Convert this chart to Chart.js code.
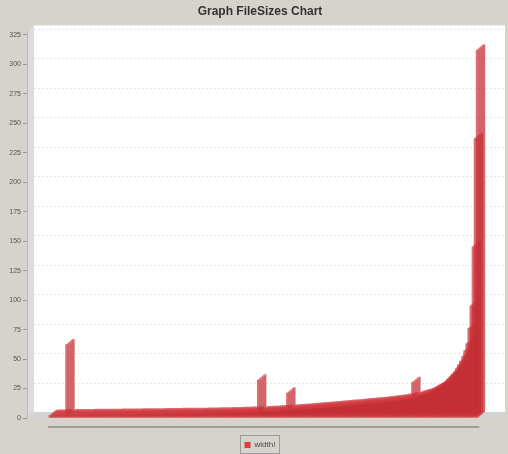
<!DOCTYPE html>
<html>
<head>
<meta charset="utf-8">
<title>Graph FileSizes Chart</title>
<script src="https://cdn.jsdelivr.net/npm/chart.js@4.4.1/dist/chart.umd.min.js"></script>
<style>
  html, body { margin: 0; padding: 0; background: #d6d3cc; }
  #wrap { width: 508px; height: 454px; }
</style>
</head>
<body>
<div id="wrap"><canvas id="chart" width="508" height="454"></canvas></div>
<script>
// Series: one bar per file, sorted by size, with a few stray large files.
const seriesName = 'width!';
const widths = [
  2.0, 2.1, 2.1, 2.2, 2.2, 2.3, 2.3, 2.4, 62.0, 2.4,
  2.5, 2.5, 2.5, 2.5, 2.6, 2.6, 2.6, 2.6, 2.6, 2.7,
  2.7, 2.7, 2.7, 2.7, 2.7, 2.8, 2.8, 2.8, 2.8, 2.8,
  2.8, 2.8, 2.9, 2.9, 2.9, 2.9, 2.9, 3.0, 3.0, 3.0,
  3.0, 3.0, 3.1, 3.1, 3.1, 3.1, 3.1, 3.2, 3.2, 3.2,
  3.2, 3.2, 3.2, 3.3, 3.3, 3.3, 3.3, 3.4, 3.4, 3.4,
  3.4, 3.5, 3.5, 3.5, 3.5, 3.6, 3.6, 3.6, 3.6, 3.7,
  3.7, 3.7, 3.7, 3.8, 3.8, 3.8, 3.9, 3.9, 3.9, 4.0,
  4.0, 4.0, 4.1, 4.1, 4.1, 4.2, 4.2, 4.2, 4.3, 4.3,
  4.4, 4.4, 4.5, 4.5, 4.6, 4.6, 4.7, 4.7, 4.8, 4.8,
  32.0, 4.9, 5.0, 5.1, 5.2, 5.3, 5.4, 5.6, 5.7, 5.8,
  5.9, 6.0, 6.1, 6.2, 21.0, 6.4, 6.5, 6.6, 6.8, 6.9,
  7.0, 7.2, 7.3, 7.5, 7.6, 7.8, 7.9, 8.1, 8.2, 8.4,
  8.5, 8.7, 8.8, 9.0, 9.1, 9.3, 9.4, 9.6, 9.7, 9.9,
  10.0, 10.2, 10.3, 10.5, 10.6, 10.8, 10.9, 11.1, 11.3, 11.4,
  11.6, 11.8, 11.9, 12.1, 12.3, 12.5, 12.6, 12.8, 13.0, 13.2,
  13.4, 13.6, 13.8, 14.0, 14.2, 14.4, 14.6, 14.9, 15.1, 15.4,
  15.7, 16.0, 16.4, 16.8, 30.0, 17.2, 18.0, 18.5, 19.0, 19.5,
  20.0, 20.8, 21.5, 22.5, 23.5, 24.5, 25.5, 26.5, 28.0, 29.5,
  31.0, 33.0, 35.0, 37.0, 39.0, 42.0, 45.0, 48.0, 52.0, 57.0,
  63.0, 76.0, 95.0, 145.0, 237.0, 312.0
];
const yTickValues = [0, 25, 50, 75, 100, 125, 150, 175, 200, 225, 250, 275, 300, 325];
const yAxisTop = 328;

// 3D depth of the plot (pixels to the right / upwards)
const DX = 7, DY = 6;
// title and legend sit centred over the whole plot, walls included
const HEADER_SHIFT = 11;
const BG = '#d6d3cc';
const FRONT = 'rgba(212,60,66,0.75)';
const SIDE = 'rgba(196,48,55,0.75)';

Chart.defaults.font.family = "'Liberation Sans', Arial, sans-serif";

const panel3d = {
  id: 'panel3d',
  afterLayout(chart) {
    [chart.titleBlock, chart.legend].forEach(box => {
      if (box) { box.left += HEADER_SHIFT; box.right += HEADER_SHIFT; }
    });
  },
  beforeDraw(chart) {
    const { ctx, chartArea: a, scales: { y } } = chart;
    ctx.save();
    ctx.fillStyle = BG;
    ctx.fillRect(0, 0, chart.width, chart.height);
    // back wall
    ctx.fillStyle = '#ffffff';
    ctx.fillRect(a.left + DX, a.top - DY, a.right - a.left, a.bottom - a.top);
    // left wall
    ctx.fillStyle = '#dcdcdf';
    ctx.beginPath();
    ctx.moveTo(a.left, a.top);
    ctx.lineTo(a.left + DX, a.top - DY);
    ctx.lineTo(a.left + DX, a.bottom - DY);
    ctx.lineTo(a.left, a.bottom);
    ctx.closePath();
    ctx.fill();
    // floor
    ctx.fillStyle = '#d3d3d3';
    ctx.beginPath();
    ctx.moveTo(a.left, a.bottom);
    ctx.lineTo(a.left + DX, a.bottom - DY);
    ctx.lineTo(a.right + DX, a.bottom - DY);
    ctx.lineTo(a.right, a.bottom);
    ctx.closePath();
    ctx.fill();
    // grid lines on the back wall
    ctx.strokeStyle = '#e6e6e6';
    ctx.lineWidth = 1;
    ctx.setLineDash([2, 2]);
    y.ticks.forEach(t => {
      if (t.value === 0) return;
      const py = Math.round(y.getPixelForValue(t.value) - DY) + 0.5;
      ctx.beginPath();
      ctx.moveTo(a.left + DX, py);
      ctx.lineTo(a.right + DX, py);
      ctx.stroke();
    });
    ctx.restore();
  },
  afterDatasetsDraw(chart) {
    const ctx = chart.ctx;
    const meta = chart.getDatasetMeta(0);
    ctx.save();
    meta.data.forEach(el => {
      const { x, y, base, width } = el.getProps(['x', 'y', 'base', 'width'], true);
      const l = x - width / 2, r = x + width / 2;
      // side face
      ctx.fillStyle = SIDE;
      ctx.beginPath();
      ctx.moveTo(r, y);
      ctx.lineTo(r + DX, y - DY);
      ctx.lineTo(r + DX, base - DY);
      ctx.lineTo(r, base);
      ctx.closePath();
      ctx.fill();
      // top face
      ctx.fillStyle = FRONT;
      ctx.beginPath();
      ctx.moveTo(l, y);
      ctx.lineTo(l + DX, y - DY);
      ctx.lineTo(r + DX, y - DY);
      ctx.lineTo(r, y);
      ctx.closePath();
      ctx.fill();
    });
    ctx.restore();
  },
  afterDraw(chart) {
    const { ctx, chartArea: a, scales: { x } } = chart;
    ctx.save();
    // category axis line below the floor
    ctx.strokeStyle = '#8e8e8e';
    ctx.lineWidth = 1.5;
    ctx.beginPath();
    ctx.moveTo(x.getPixelForValue(-1), a.bottom + 9);
    ctx.lineTo(x.getPixelForValue(widths.length), a.bottom + 9);
    ctx.stroke();
    // frame round the legend
    const hb = chart.legend.legendHitBoxes[0];
    if (hb) {
      ctx.strokeStyle = '#9c9c9c';
      ctx.lineWidth = 1;
      ctx.strokeRect(Math.round(hb.left) - 4.5, Math.round(hb.top) - 5.5, Math.round(hb.width) + 8, Math.round(hb.height) + 10);
    }
    ctx.restore();
  }
};

new Chart(document.getElementById('chart'), {
  type: 'bar',
  data: {
    datasets: [{
      label: seriesName,
      data: widths.map((v, i) => ({ x: i, y: v })),
      backgroundColor: FRONT,
      borderWidth: 0,
      barPercentage: 1,
      categoryPercentage: 1
    }]
  },
  options: {
    responsive: false,
    animation: false,
    layout: { padding: { top: 0, left: 0, right: 10, bottom: -5 } },
    scales: {
      x: {
        type: 'linear',
        min: -11,
        max: 215,
        offset: false,
        ticks: { display: false },
        grid: { display: false, drawTicks: false },
        border: { display: false },
        afterFit: s => { s.height = 19; }
      },
      y: {
        min: 0,
        max: yAxisTop,
        afterBuildTicks: s => { s.ticks = yTickValues.map(v => ({ value: v })); },
        afterFit: s => { s.width = 27; },
        grid: { drawOnChartArea: false, drawTicks: true, tickLength: 4, color: '#9a9a9a' },
        border: { display: true, color: '#b9b9b9' },
        ticks: { font: { size: 7 }, color: '#555555', padding: 2 }
      }
    },
    plugins: {
      title: {
        display: true,
        text: 'Graph FileSizes Chart',
        color: '#333333',
        font: { size: 12, weight: 'bold' },
        padding: { top: 4, bottom: 13 }
      },
      legend: {
        position: 'bottom',
        labels: {
          boxWidth: 6,
          boxHeight: 6,
          padding: 4,
          color: '#444444',
          font: { size: 8 },
          generateLabels: chart => Chart.defaults.plugins.legend.labels.generateLabels(chart)
            .map(it => Object.assign(it, { fillStyle: '#e23c3c', strokeStyle: '#e23c3c', lineWidth: 0 }))
        }
      },
      tooltip: { enabled: false }
    }
  },
  plugins: [panel3d]
});
</script>
</body>
</html>
